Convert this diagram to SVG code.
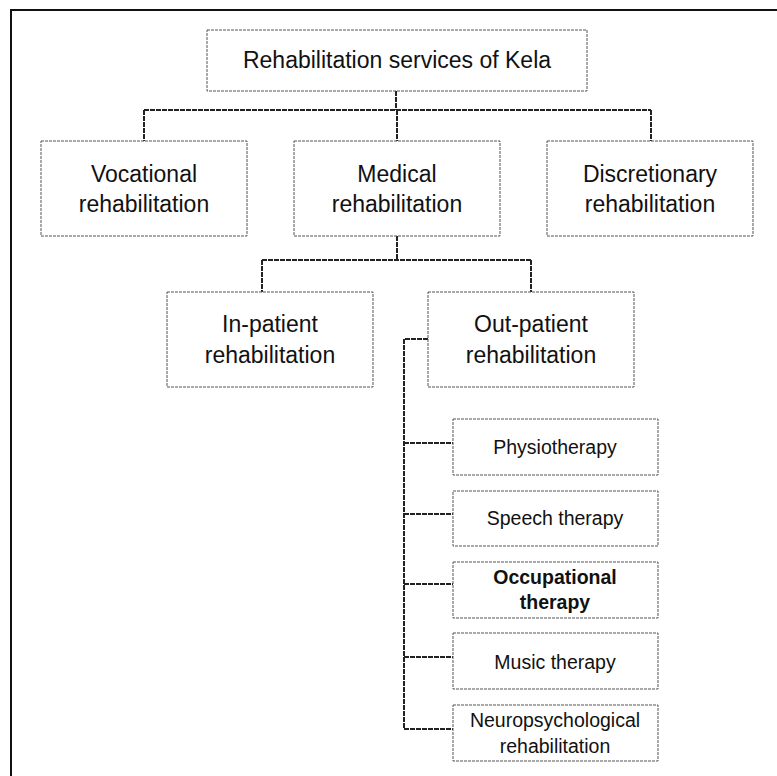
<svg xmlns="http://www.w3.org/2000/svg" width="777" height="776" viewBox="0 0 777 776">
<style>
.box{fill:#fff;stroke:#555;stroke-width:1;stroke-dasharray:3,1}
.t{font-family:"Liberation Sans",Arial,sans-serif;font-size:23px;fill:#111;text-anchor:middle}
.s{font-family:"Liberation Sans",Arial,sans-serif;font-size:19.5px;fill:#111;text-anchor:middle}
.b{font-weight:bold}
.c{fill:none;stroke:#222;stroke-width:2;stroke-dasharray:5,1}
</style>
<rect width="777" height="776" fill="#fff"/>
<path d="M11,790 V10 H790" fill="none" stroke="#111" stroke-width="2"/>
<g id="connectors">
<path class="c" d="M396,91 V110 M144,110 H651 M144,110 V141 M397,110 V141 M651,110 V141"/>
<path class="c" d="M397,236 V260 M262,260 H531 M262,260 V292 M531,260 V292"/>
<path class="c" d="M428,339 H404 V729 M404,443 H453 M404,514 H453 M404,584 H453 M404,657 H453 M404,729 H453"/>
</g>
<g id="root"><rect class="box" x="207" y="30" width="380" height="61"/><text class="t" x="397" y="68">Rehabilitation services of Kela</text></g>
<g id="vocational"><rect class="box" x="41" y="141" width="206" height="95"/><text class="t" x="144" y="182">Vocational</text><text class="t" x="144" y="212">rehabilitation</text></g>
<g id="medical"><rect class="box" x="294" y="141" width="206" height="95"/><text class="t" x="397" y="182">Medical</text><text class="t" x="397" y="212">rehabilitation</text></g>
<g id="discretionary"><rect class="box" x="547" y="141" width="206" height="95"/><text class="t" x="650" y="182">Discretionary</text><text class="t" x="650" y="212">rehabilitation</text></g>
<g id="inpatient"><rect class="box" x="167" y="292" width="206" height="95"/><text class="t" x="270" y="332">In-patient</text><text class="t" x="270" y="363">rehabilitation</text></g>
<g id="outpatient"><rect class="box" x="428" y="292" width="206" height="95"/><text class="t" x="531" y="332">Out-patient</text><text class="t" x="531" y="363">rehabilitation</text></g>
<g id="physiotherapy"><rect class="box" x="453" y="419" width="205" height="56"/><text class="s" x="555" y="454">Physiotherapy</text></g>
<g id="speech"><rect class="box" x="453" y="491" width="205" height="55"/><text class="s" x="555" y="525">Speech therapy</text></g>
<g id="occupational"><rect class="box" x="453" y="562" width="205" height="56"/><text class="s b" x="555" y="584">Occupational</text><text class="s b" x="555" y="609">therapy</text></g>
<g id="music"><rect class="box" x="453" y="633" width="205" height="56"/><text class="s" x="555" y="669">Music therapy</text></g>
<g id="neuro"><rect class="box" x="453" y="705" width="205" height="56"/><text class="s" x="555" y="727">Neuropsychological</text><text class="s" x="555" y="753">rehabilitation</text></g>
</svg>
